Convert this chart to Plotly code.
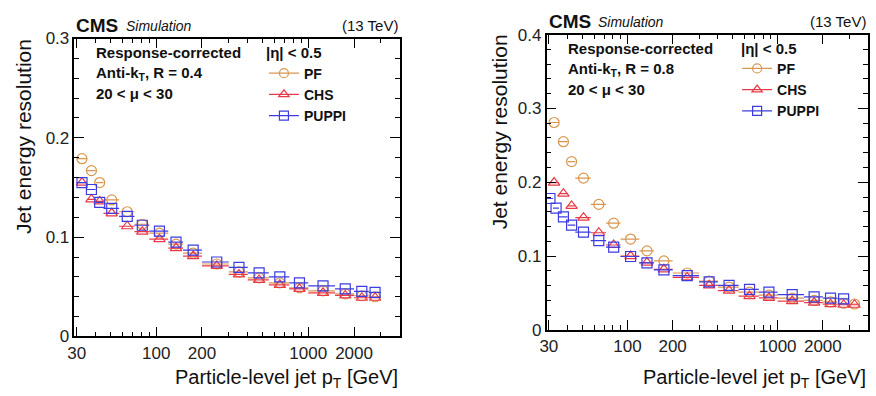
import math
import plotly.graph_objects as go

# ---------------- data ----------------
bin_lo = [30, 35, 40, 45, 57, 72, 90, 120, 150, 200, 300, 400, 550, 750, 1000, 1500, 2000, 2500, 3000]
bin_hi = [35, 40, 45, 57, 72, 90, 120, 150, 200, 300, 400, 550, 750, 1000, 1500, 2000, 2500, 3000, 3500]

# R = 0.4 (18 bins, 30-3000 GeV)
pf_r04 = [0.179, 0.167, 0.155, 0.1375, 0.1256, 0.113, 0.104, 0.093, 0.084, 0.073, 0.065,
          0.059, 0.054, 0.049, 0.046, 0.043, 0.041, 0.040]
chs_r04 = [0.155, 0.138, 0.136, 0.124, 0.111, 0.1055, 0.098, 0.089, 0.081, 0.071, 0.0625,
           0.057, 0.052, 0.048, 0.044, 0.0413, 0.039, 0.039]
puppi_r04 = [0.155, 0.148, 0.135, 0.129, 0.121, 0.112, 0.106, 0.095, 0.087, 0.075, 0.0695,
             0.064, 0.060, 0.054, 0.051, 0.048, 0.0455, 0.0445]

# R = 0.8 (19 bins, 30-3500 GeV)
pf_r08 = [0.281, 0.255, 0.228, 0.2056, 0.170, 0.1445, 0.123, 0.107, 0.0935, 0.077, 0.066,
          0.058, 0.051, 0.047, 0.043, 0.040, 0.038, 0.036, 0.035]
chs_r08 = [0.1996, 0.1845, 0.168, 0.152, 0.1316, 0.115, 0.100, 0.091, 0.082, 0.071, 0.0603,
           0.053, 0.0458, 0.0434, 0.039, 0.037, 0.0348, 0.034, 0.034]
puppi_r08_lo = [29, 32, 35, 40, 45, 57, 72, 90, 120, 150, 200, 300, 400, 550, 750, 1000, 1500, 2000, 2500]
puppi_r08_hi = [32, 35, 40, 45, 57, 72, 90, 120, 150, 200, 300, 400, 550, 750, 1000, 1500, 2000, 2500, 3000]
puppi_r08 = [0.178, 0.165, 0.153, 0.142, 0.1325, 0.121, 0.112, 0.0994, 0.0907, 0.0813, 0.0735,
             0.065, 0.0602, 0.0548, 0.0512, 0.0477, 0.0447, 0.043, 0.042]

series_names = ["PF", "CHS", "PUPPI"]
x_tick_vals = [30, 100, 200, 1000, 2000]
x_tick_text = ["30", "100", "200", "1000", "2000"]
x_minor_vals = [40, 50, 60, 70, 80, 90, 300, 400, 500, 600, 700, 800, 900, 3000]

# ---------------- style ----------------
COL = {"PF": "#d9964e", "CHS": "#e63a48", "PUPPI": "#3c3ce0"}
SYM = {"PF": "circle-open", "CHS": "triangle-up-open", "PUPPI": "square-open"}
FONT = "Liberation Sans, Arial, Helvetica, sans-serif"
W, H = 876, 396


def px_x(p):
    return p / W


def px_y(p):
    return 1 - p / H


fig = go.Figure()


def add_series(name, lo, hi, vals, xa, ya, legend):
    n = len(vals)
    lo, hi = lo[:n], hi[:n]
    xc = [(a + b) / 2 for a, b in zip(lo, hi)]
    fig.add_trace(go.Scatter(
        x=xc, y=vals, mode="markers", xaxis=xa, yaxis=ya, showlegend=False,
        marker=dict(symbol=SYM[name], size=10, color=COL[name], line=dict(width=1.2, color=COL[name])),
        error_x=dict(type="data", symmetric=False,
                     array=[b - c for b, c in zip(hi, xc)],
                     arrayminus=[c - a for a, c in zip(lo, xc)],
                     color=COL[name], thickness=1.2, width=0),
    ))
    # legend entry (marker with line)
    fig.add_trace(go.Scatter(
        x=[None], y=[None], mode="lines+markers", name="<b>" + name + "</b>", xaxis=xa, yaxis=ya,
        legend=legend,
        marker=dict(symbol=SYM[name], size=9, color=COL[name], line=dict(width=1.2, color=COL[name])),
        line=dict(color=COL[name], width=1.2),
    ))


for name, vals in zip(series_names, [pf_r04, chs_r04, puppi_r04]):
    add_series(name, bin_lo, bin_hi, vals, "x", "y", "legend")
add_series("PF", bin_lo, bin_hi, pf_r08, "x2", "y2", "legend2")
add_series("CHS", bin_lo, bin_hi, chs_r08, "x2", "y2", "legend2")
add_series("PUPPI", puppi_r08_lo, puppi_r08_hi, puppi_r08, "x2", "y2", "legend2")

axis_common = dict(showline=True, linecolor="black", linewidth=1.5, mirror="ticks",
                   ticks="inside", tickcolor="black", tickwidth=1.2, showgrid=False, zeroline=False,
                   tickfont=dict(family=FONT, size=17, color="#222"))

xa = dict(type="log", range=[math.log10(29), math.log10(4000)], tickmode="array",
          tickvals=x_tick_vals, ticktext=x_tick_text, ticklen=10,
          minor=dict(tickmode="array", tickvals=x_minor_vals, ticklen=5, ticks="inside",
                     tickcolor="black", tickwidth=1.2),
          **axis_common)

legend_style = dict(xanchor="left", yanchor="top", bgcolor="rgba(0,0,0,0)",
                    font=dict(family=FONT, size=14, color="#111"), itemwidth=30, tracegroupgap=0)

fig.update_layout(
    width=W, height=H, margin=dict(l=0, r=0, t=0, b=0),
    paper_bgcolor="white", plot_bgcolor="white",
    xaxis=dict(domain=[px_x(68), px_x(396)], anchor="y", **xa),
    yaxis=dict(domain=[px_y(344), px_y(31)], anchor="x", range=[0, 0.3], dtick=0.1, ticklen=10,
               minor=dict(dtick=0.02, ticklen=5, ticks="inside", tickcolor="black", tickwidth=1.2),
               **axis_common),
    xaxis2=dict(domain=[px_x(544), px_x(868)], anchor="y2", **xa),
    yaxis2=dict(domain=[px_y(337), px_y(27)], anchor="x2", range=[0, 0.4], dtick=0.1, ticklen=10,
                minor=dict(dtick=0.02, ticklen=5, ticks="inside", tickcolor="black", tickwidth=1.2),
                **axis_common),
    legend=dict(x=px_x(259), y=px_y(51), **legend_style),
    legend2=dict(x=px_x(736), y=px_y(46), **legend_style),
)

ann = []


def add_text(x, y, text, size, xanchor="left", yanchor="middle", angle=0, italic=False):
    ann.append(dict(x=px_x(x), y=px_y(y), xref="paper", yref="paper", text=text, showarrow=False,
                    xanchor=xanchor, yanchor=yanchor, textangle=angle,
                    font=dict(family=FONT, size=size, color="#111",
                              style="italic" if italic else "normal")))


panels = [
    dict(x0=68, x1=396, top=31, R="0.4", ylab_x=16, eta_x=259),
    dict(x0=544, x1=868, top=27, R="0.8", ylab_x=496, eta_x=738),
]
for p in panels:
    add_text(p["x0"], p["top"] - 1, "<b>CMS</b>", 19, yanchor="bottom")
    add_text(p["x0"] + 50, p["top"] - 3, "Simulation", 14, yanchor="bottom", italic=True)
    add_text(p["x1"], p["top"] - 3, "(13 TeV)", 15, xanchor="right", yanchor="bottom")
    add_text(p["x0"] + 20, p["top"] + 15, "<b>Response-corrected</b>", 15)
    add_text(p["x0"] + 20, p["top"] + 37, "<b>Anti-k<sub>T</sub>, R = " + p["R"] + "</b>", 15)
    add_text(p["x0"] + 20, p["top"] + 58, "<b>20 < μ < 30</b>", 15)
    add_text(p["eta_x"], p["top"] + 15, "<b>|η| < 0.5</b>", 15)
    add_text(p["x1"], 403, "Particle-level jet p<sub>T</sub> [GeV]", 20, xanchor="right", yanchor="bottom")
    add_text(p["ylab_x"], p["top"] - 2, "Jet energy resolution", 21, xanchor="center", yanchor="top", angle=-90)

fig.update_layout(annotations=ann)
fig.write_html("out.html", post_script="document.body.style.margin='0';",
               config={"displayModeBar": False})
